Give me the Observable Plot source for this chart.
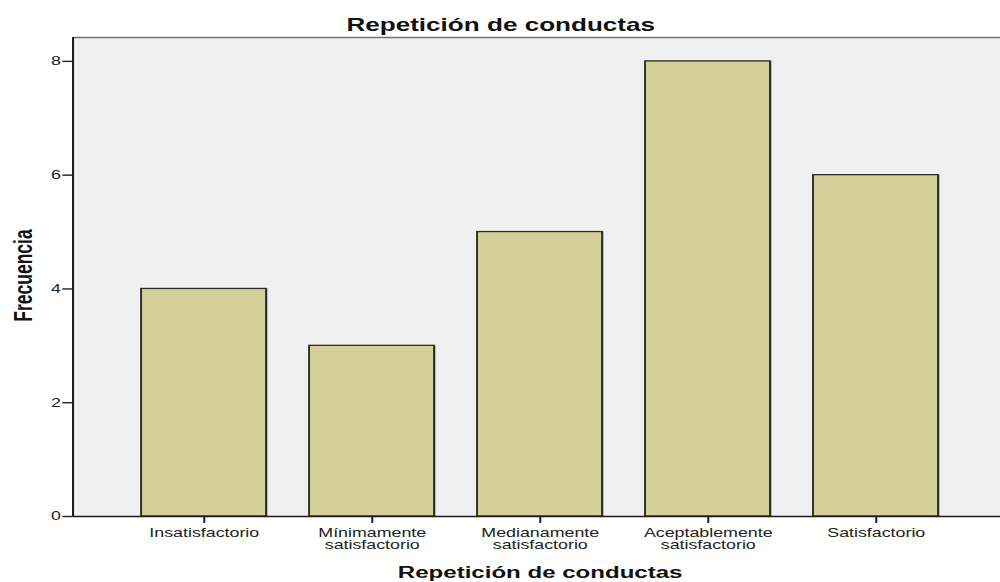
<!DOCTYPE html>
<html>
<head>
<meta charset="utf-8">
<script src="https://cdn.jsdelivr.net/npm/d3@7"></script>
<script src="https://cdn.jsdelivr.net/npm/@observablehq/plot@0.6"></script>
<style>
  html, body { margin: 0; padding: 0; background: #ffffff; overflow: hidden; }
  #chart svg { display: block; overflow: hidden; }
</style>
</head>
<body>
<div id="chart"></div>
<script>
// Frequencies for each response category
const categories = [
  "Insatisfactorio",
  "Mínimamente\nsatisfactorio",
  "Medianamente\nsatisfactorio",
  "Aceptablemente\nsatisfactorio",
  "Satisfactorio"
];
const frequencies = [4, 3, 5, 8, 6];
const yTicks = [0, 2, 4, 6, 8];
const yMax = 8.42;

const titleText = "Repetición de conductas";
const xLabelText = "Repetición de conductas";
const yLabelText = "Frecuencia";

const data = categories.map((c, i) => ({category: c, value: frequencies[i]}));

// The chart is laid out on a narrower canvas and then widened horizontally,
// which gives the wide, stretched look of the lettering.
const outWidth = 1000;
const outHeight = 582;
const stretch = 1.4493;
const W = outWidth / stretch;

const font = "'Liberation Sans', Arial, Helvetica, sans-serif";

// Vertical line along the left edge of the plot area
function leftEdge(index, scales, values, dimensions) {
  const {marginLeft, marginTop, marginBottom, height} = dimensions;
  return d3.create("svg:line")
    .attr("x1", marginLeft).attr("x2", marginLeft)
    .attr("y1", marginTop).attr("y2", height - marginBottom)
    .attr("stroke", "#1a1a1a").attr("stroke-width", 1.4)
    .node();
}

const chart = Plot.plot({
  width: W,
  height: outHeight,
  marginLeft: 50.4,
  marginRight: -2,          // plot area runs past the right edge
  marginTop: 37,
  marginBottom: 66,
  insetLeft: 17.25,
  insetRight: 15.1,
  style: {fontFamily: font, fontSize: "12.3px", color: "#222", background: "#ffffff"},
  x: {domain: categories, padding: 0.256, axis: null, round: false},
  y: {domain: [0, yMax], axis: null},
  marks: [
    Plot.frame({fill: "#f0f0f0", stroke: "none"}),
    // plot-area top border
    Plot.ruleY([yMax], {stroke: "#707070", strokeWidth: 1.6}),
    // bar shadow
    Plot.barY(data, {x: "category", y: "value", fill: "#8c8c8c", fillOpacity: 0.55, dx: 1.4}),
    Plot.barY(data, {x: "category", y: "value", fill: "#d3cf98", stroke: "#2b2b2b", strokeWidth: 1.3}),
    Plot.axisY({
      ticks: yTicks, tickSize: 7.4, tickPadding: 1.5, strokeWidth: 1.4,
      stroke: "#222", fill: "#222", fontSize: 12.3, label: null
    }),
    leftEdge,
    Plot.ruleY([0], {stroke: "#1a1a1a", strokeWidth: 1.6}),
    Plot.axisX({
      tickSize: 7, tickPadding: 5, strokeWidth: 1.4, lineHeight: 0.98,
      stroke: "#222", fill: "#222", fontSize: 12.3, label: null
    }),
    // title, centred on the whole figure
    Plot.text([titleText], {
      frameAnchor: "top", dx: -26.2, dy: -12.3, lineAnchor: "middle", textAnchor: "middle",
      fontSize: 18, fontWeight: "bold", fill: "#111"
    }),
    Plot.text([xLabelText], {
      frameAnchor: "bottom", dx: 1, dy: 56.3, lineAnchor: "middle", textAnchor: "middle",
      fontSize: 16.6, fontWeight: "bold", fill: "#111"
    }),
    Plot.text([yLabelText], {
      frameAnchor: "left", dx: -34.3, dy: -1.5, rotate: -90, lineAnchor: "middle", textAnchor: "middle",
      fontSize: 17.5, fontWeight: "bold", fill: "#111"
    })
  ]
});

chart.setAttribute("width", outWidth);
chart.setAttribute("height", outHeight);
chart.setAttribute("preserveAspectRatio", "none");
chart.style.width = outWidth + "px";
chart.style.height = outHeight + "px";
chart.style.maxWidth = "none";
document.getElementById("chart").appendChild(chart);
</script>
</body>
</html>
